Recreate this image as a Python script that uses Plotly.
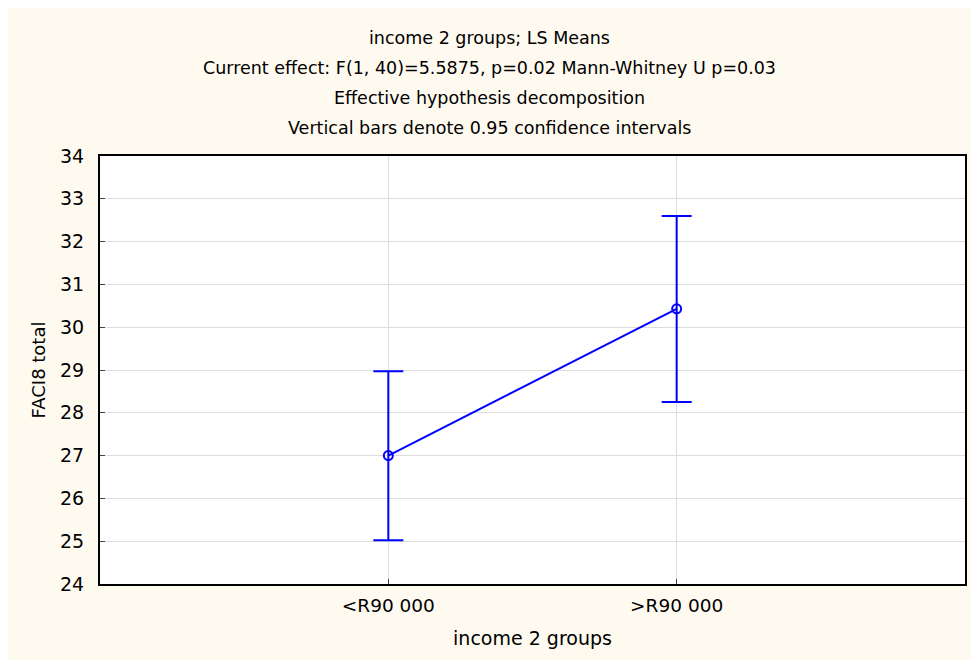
import plotly.graph_objects as go

# ---- data ----
categories = ["<R90 000", ">R90 000"]
ls_means = [27.0, 30.43]
ci_upper = [28.97, 32.60]
ci_lower = [25.02, 28.25]
y_ticks = [24, 25, 26, 27, 28, 29, 30, 31, 32, 33, 34]

title_lines = [
    "income 2 groups; LS Means",
    "Current effect: F(1, 40)=5.5875, p=0.02 Mann-Whitney U p=0.03",
    "Effective hypothesis decomposition",
    "Vertical bars denote 0.95 confidence intervals",
]
x_title = "income 2 groups"
y_title = "FACI8 total"

err_plus = [u - m for u, m in zip(ci_upper, ls_means)]
err_minus = [m - l for m, l in zip(ls_means, ci_lower)]

W, H = 977, 660
L, R, T, B = 100, 10, 156, 76
pw, ph = W - L - R, H - T - B

def px_x(x):
    return (x - L) / pw

def px_y(y):
    return (H - B - y) / ph

FONT = "DejaVu Sans"
BLUE = "#0000FF"

fig = go.Figure()
fig.add_trace(go.Scatter(
    x=[0, 1], y=ls_means,
    mode="lines+markers",
    line=dict(color=BLUE, width=2),
    marker=dict(symbol="circle-open", size=9, color=BLUE, line=dict(width=2, color=BLUE)),
    error_y=dict(type="data", symmetric=False, array=err_plus, arrayminus=err_minus,
                 color=BLUE, thickness=2, width=15),
    showlegend=False,
))

shapes = [
    dict(type="rect", xref="paper", yref="paper", x0=px_x(8), x1=px_x(973), y0=px_y(662), y1=px_y(8),
         fillcolor="#FFFAF0", line=dict(width=0), layer="below"),
    dict(type="rect", xref="paper", yref="paper", x0=0, x1=1, y0=0, y1=1,
         fillcolor="white", line=dict(width=0), layer="below"),
]

title_y = [38, 68, 98, 128]
annotations = []
for txt, yy in zip(title_lines, title_y):
    annotations.append(dict(text=txt, xref="paper", yref="paper", x=px_x(490), y=px_y(yy),
                            xanchor="center", yanchor="middle", showarrow=False,
                            font=dict(family=FONT, size=17.5, color="black")))

fig.update_layout(
    width=W, height=H,
    margin=dict(l=L, r=R, t=T, b=B, pad=0),
    paper_bgcolor="white", plot_bgcolor="rgba(0,0,0,0)",
    shapes=shapes, annotations=annotations,
    font=dict(family=FONT, size=17, color="black"),
)
fig.update_xaxes(
    range=[-1, 2], tickmode="array", tickvals=[0, 1], ticktext=categories,
    showgrid=True, gridcolor="#DDDDDD", gridwidth=1,
    showline=True, linecolor="black", linewidth=2, mirror=True,
    ticks="inside", ticklen=5, tickcolor="#444444", zeroline=False,
    tickfont=dict(family=FONT, size=18.5), ticklabelstandoff=4,
    title=dict(text=x_title, font=dict(family=FONT, size=19), standoff=16),
)
fig.update_yaxes(
    range=[24, 34], tickmode="array", tickvals=y_ticks,
    showgrid=True, gridcolor="#DDDDDD", gridwidth=1,
    showline=True, linecolor="black", linewidth=2, mirror=True,
    ticks="inside", ticklen=5, tickcolor="#444444", zeroline=False,
    tickfont=dict(family=FONT, size=19), ticklabelstandoff=10,
    title=dict(text=y_title, font=dict(family=FONT, size=18), standoff=10),
)

fig.write_html("out.html", config={"displayModeBar": False},
               post_script="document.body.style.margin='0';document.body.style.padding='0';")
